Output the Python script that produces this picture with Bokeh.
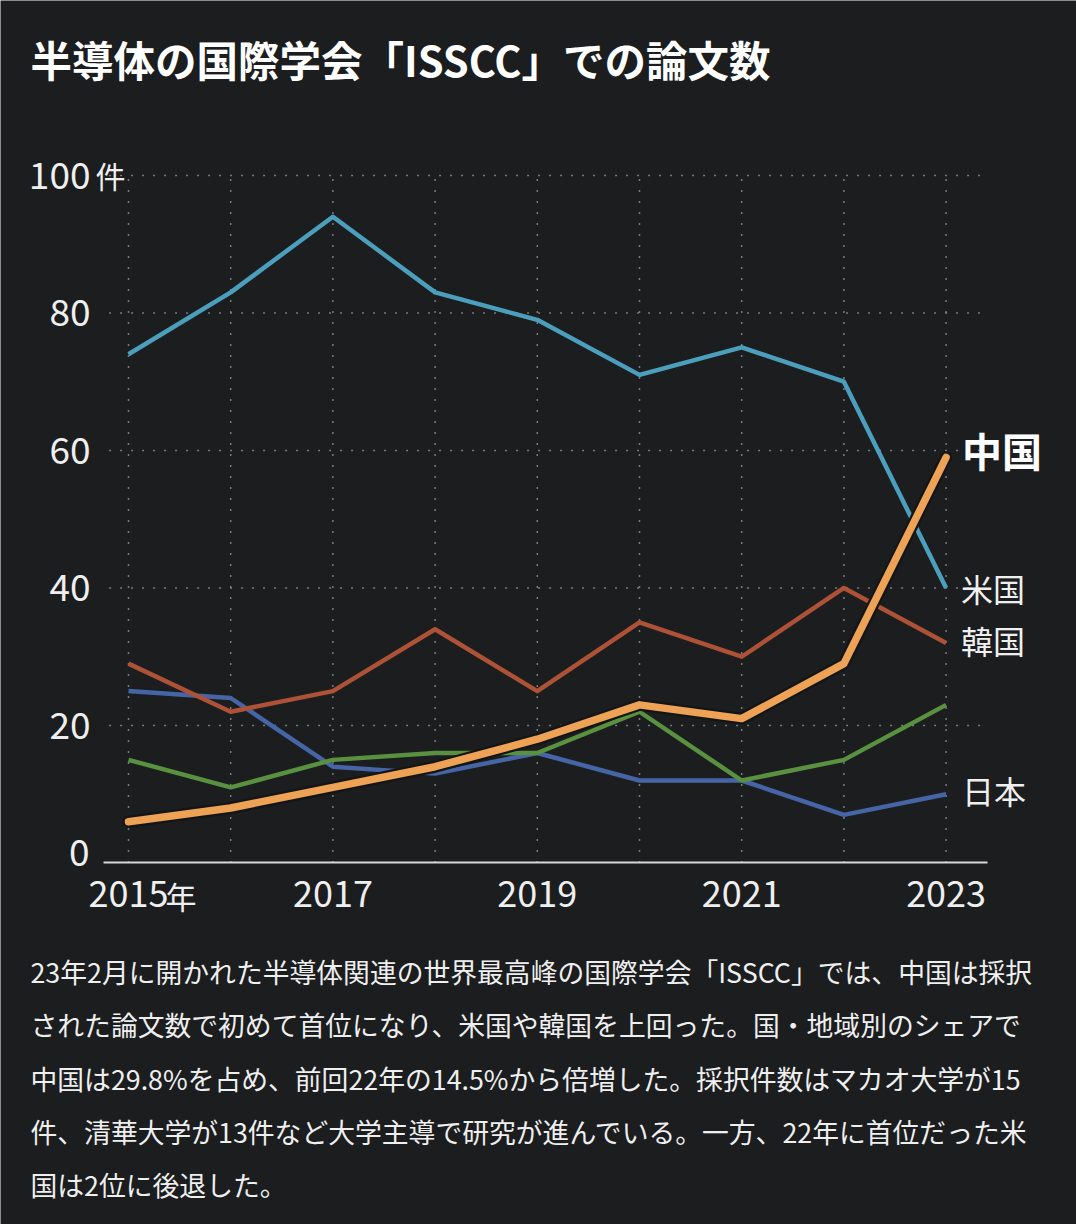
from bokeh.plotting import figure
from bokeh.models import Label, FixedTicker, Range1d
from bokeh.embed import file_html
from bokeh.resources import INLINE

# ---------------- data ----------------
years = [2015, 2016, 2017, 2018, 2019, 2020, 2021, 2022, 2023]
usa = [74, 83, 94, 83, 79, 71, 75, 70, 40]
korea = [29, 22, 25, 34, 25, 35, 30, 40, 32]
japan = [25, 24, 14, 13, 16, 12, 12, 7, 10]
other = [15, 11, 15, 16, 16, 22, 12, 15, 23]   # green series (unlabelled)
china = [6, 8, 11, 14, 18, 23, 21, 29, 59]

x_ticks = [2015, 2017, 2019, 2021, 2023]
x_tick_labels = ["2015", "2017", "2019", "2021", "2023"]
y_ticks = [0, 20, 40, 60, 80, 100]
y_tick_labels = ["0", "20", "40", "60", "80", "100"]

title_text = "半導体の国際学会「ISSCC」での論文数"
caption_lines = [
    "23年2月に開かれた半導体関連の世界最高峰の国際学会「ISSCC」では、中国は採択",
    "された論文数で初めて首位になり、米国や韓国を上回った。国・地域別のシェアで",
    "中国は29.8%を占め、前回22年の14.5%から倍増した。採択件数はマカオ大学が15",
    "件、清華大学が13件など大学主導で研究が進んでいる。一方、22年に首位だった米",
    "国は2位に後退した。",
]

# ---------------- style ----------------
W, H = 1076, 1224
BG = "#1b1d1f"
TXT = "#efefef"
FONT = "Noto Sans CJK JP"
C_USA = "#4c9fbc"
C_KOR = "#ad5236"
C_JPN = "#4565a6"
C_OTH = "#5a9140"
C_CHN = "#eea256"
GRID = "#888d90"

# plot area (in data units) and full-canvas view ranges
X_LO, X_HI = 2013.7476, 2024.2759
Y_LO, Y_HI = -52.58, 125.45
AXIS_X0, AXIS_X1 = 2014.755, 2023.405
GRID_X0, GRID_X1 = 2014.81, 2023.34

p = figure(width=W, height=H,
           x_range=Range1d(X_LO, X_HI), y_range=Range1d(Y_LO, Y_HI),
           output_backend="svg", toolbar_location=None,
           min_border=0, min_border_left=0, min_border_right=0,
           min_border_top=0, min_border_bottom=0)
p.background_fill_color = BG
p.border_fill_color = BG
p.outline_line_color = None
p.xgrid.visible = False
p.ygrid.visible = False

# dotted grid lines built from tick arrays
p.segment(x0=years, x1=years, y0=[y_ticks[0]] * len(years), y1=[y_ticks[-1]] * len(years),
          line_color=GRID, line_alpha=0.85, line_width=1.5, line_dash="2 9")
p.segment(x0=[GRID_X0] * (len(y_ticks) - 1), x1=[GRID_X1] * (len(y_ticks) - 1),
          y0=y_ticks[1:], y1=y_ticks[1:],
          line_color=GRID, line_alpha=0.85, line_width=1.5, line_dash="2 9")

# axes
xa = p.xaxis[0]
xa.fixed_location = 0
xa.bounds = (AXIS_X0, AXIS_X1)
xa.ticker = FixedTicker(ticks=x_ticks)
xa.major_label_overrides = {t: l for t, l in zip(x_ticks, x_tick_labels)}
xa.axis_line_color = "#d8d8d8"
xa.axis_line_width = 2
xa.major_tick_line_color = None
xa.minor_tick_line_color = None
xa.major_label_text_color = TXT
xa.major_label_text_font = FONT
xa.major_label_text_font_size = "36px"
xa.major_label_standoff = 12

ya = p.yaxis[0]
ya.fixed_location = AXIS_X0
ya.bounds = (0, 100)
ya.ticker = FixedTicker(ticks=y_ticks)
# the "0" label sits a little above the baseline; drawn separately below
ya.major_label_overrides = {t: ("" if t == y_ticks[0] else l)
                            for t, l in zip(y_ticks, y_tick_labels)}
ya.axis_line_color = None
ya.major_tick_line_color = None
ya.minor_tick_line_color = None
ya.major_label_text_color = TXT
ya.major_label_text_font = FONT
ya.major_label_text_font_size = "37px"
ya.major_label_standoff = 7

p.add_layout(Label(x=AXIS_X0, x_offset=-14, y=y_ticks[0], y_offset=10,
                   text=y_tick_labels[0], text_color=TXT, text_font=FONT,
                   text_font_size="37px", text_align="right", text_baseline="middle"))

# lines
p.line(years, usa, line_color=C_USA, line_width=4.5, line_join="round")
p.line(years, japan, line_color=C_JPN, line_width=4.5, line_join="round")
p.line(years, other, line_color=C_OTH, line_width=4.5, line_join="round")
p.line(years, korea, line_color=C_KOR, line_width=4.5, line_join="round")
p.line(years, china, line_color="#141516", line_width=12, line_join="round", line_cap="round")
p.line(years, china, line_color=C_CHN, line_width=7.5, line_join="round", line_cap="round")

# series labels at end of lines
series_labels = [("中国", china, "bold", "40px", 16, 7), ("米国", usa, "normal", "32px", 15, 0),
                 ("韓国", korea, "normal", "32px", 15, 3), ("日本", japan, "normal", "32px", 16, 4)]
for name, vals, style, size, dx, dy in series_labels:
    p.add_layout(Label(x=years[-1], y=vals[-1], x_offset=dx, y_offset=dy, text=name,
                       text_color="#ffffff" if style == "bold" else TXT,
                       text_font=FONT, text_font_style=style, text_font_size=size,
                       text_baseline="middle", text_align="left"))

# unit suffixes
p.add_layout(Label(x=x_ticks[0], x_offset=-33, y=y_ticks[-1], text="件", text_color=TXT,
                   text_font=FONT, text_font_size="30px", text_baseline="middle"))
p.add_layout(Label(x=x_ticks[0], x_offset=37, y=0, y_offset=-33, text="年",
                   text_color=TXT, text_font=FONT, text_font_size="31px",
                   text_baseline="middle"))

# title
p.add_layout(Label(x=30, y=H - 58, x_units="screen", y_units="screen", text=title_text,
                   text_color="#ffffff", text_font=FONT, text_font_style="bold",
                   text_font_size="41.5px", text_baseline="middle"))

# caption
for i, line in enumerate(caption_lines):
    p.add_layout(Label(x=30, y=H - 971 - 53.3 * i, x_units="screen", y_units="screen",
                       text=line, text_color=TXT, text_font=FONT,
                       text_font_size="26.8px", text_baseline="middle"))

open("out.html", "w").write(file_html(p, INLINE))
